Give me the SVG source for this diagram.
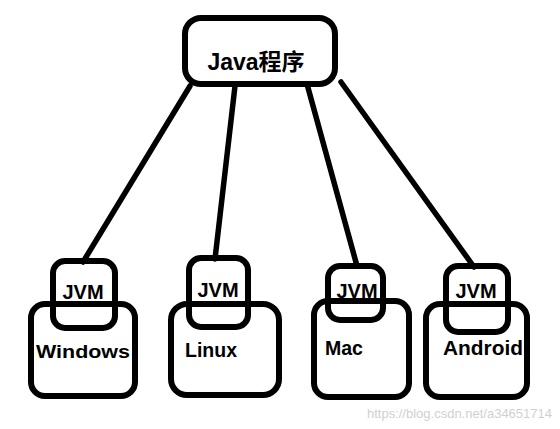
<svg xmlns="http://www.w3.org/2000/svg" width="560" height="429" viewBox="0 0 560 429">
<style>
.box{fill:#fff;stroke:#000;stroke-width:6}
.jvm{fill:none;stroke:#000;stroke-width:6}
.lbl{font-family:"Liberation Sans","Noto Sans CJK SC",sans-serif;font-weight:bold;fill:#000}
.edge{stroke:#000;stroke-width:5.5;stroke-linecap:round;fill:none}
</style>
<rect width="560" height="429" fill="#fff"/>
<g id="connectors">
<line class="edge" x1="190" y1="86" x2="83" y2="262"/>
<line class="edge" x1="235" y1="86" x2="215" y2="259"/>
<line class="edge" x1="307" y1="84" x2="357" y2="266"/>
<line class="edge" x1="341" y1="82" x2="474" y2="267"/>
</g>
<g id="java">
<rect class="box" x="185" y="18" width="150" height="66" rx="16"/>
<text class="lbl" x="256" y="70" font-size="23" text-anchor="middle">Java程序</text>
</g>
<g id="windows">
<rect class="box" x="31" y="304" width="104" height="92" rx="14"/>
<rect class="jvm" x="53" y="261" width="62" height="67" rx="12"/>
<text class="lbl" x="83" y="299" font-size="20" text-anchor="middle">JVM</text>
<text class="lbl" x="83" y="358" font-size="19" text-anchor="middle" textLength="94" lengthAdjust="spacingAndGlyphs">Windows</text>
</g>
<g id="linux">
<rect class="box" x="171" y="304" width="108" height="91" rx="16"/>
<rect class="jvm" x="189" y="258" width="59" height="69" rx="12"/>
<text class="lbl" x="218" y="297" font-size="20" text-anchor="middle">JVM</text>
<text class="lbl" x="185" y="357" font-size="19.5">Linux</text>
</g>
<g id="mac">
<rect class="box" x="314" y="301" width="95" height="96" rx="14"/>
<rect class="jvm" x="328" y="266" width="55" height="54" rx="12"/>
<text class="lbl" x="357" y="298" font-size="20" text-anchor="middle">JVM</text>
<text class="lbl" x="325" y="355" font-size="19.5">Mac</text>
</g>
<g id="android">
<rect class="box" x="426" y="304" width="101" height="93" rx="14"/>
<rect class="jvm" x="446" y="266" width="62" height="66" rx="12"/>
<text class="lbl" x="476" y="298" font-size="20" text-anchor="middle">JVM</text>
<text class="lbl" x="443" y="355" font-size="19.5" textLength="80" lengthAdjust="spacingAndGlyphs">Android</text>
</g>
<text x="552" y="418" font-family="Liberation Sans, sans-serif" font-size="13" fill="#d0d0d0" text-anchor="end">https://blog.csdn.net/a34651714</text>
</svg>
